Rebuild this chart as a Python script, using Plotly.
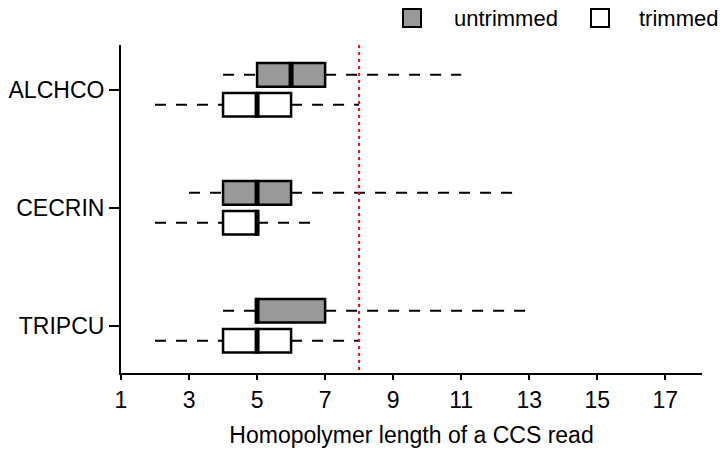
import plotly.graph_objects as go

# Species and summary statistics of homopolymer length per CCS read
species = ["ALCHCO", "CECRIN", "TRIPCU"]

untrimmed_low = [4, 3, 4]
untrimmed_q1 = [5, 4, 5]
untrimmed_med = [6, 5, 5]
untrimmed_q3 = [7, 6, 7]
untrimmed_high = [11, 12.75, 13]

trimmed_low = [2, 2, 2]
trimmed_q1 = [4, 4, 4]
trimmed_med = [5, 5, 5]
trimmed_q3 = [6, 5, 6]
trimmed_high = [8, 6.75, 8]

threshold = 8
x_ticks = [1, 3, 5, 7, 9, 11, 13, 15, 17]

FONT = "Arial, Liberation Sans, sans-serif"
OFFSET = 0.127
BOX_H = 0.2
GREY = "#999999"

fig = go.Figure()

groups = [
    ("untrimmed", -OFFSET, GREY, untrimmed_low, untrimmed_q1, untrimmed_med, untrimmed_q3, untrimmed_high),
    ("trimmed", OFFSET, "#ffffff", trimmed_low, trimmed_q1, trimmed_med, trimmed_q3, trimmed_high),
]

for name, off, color, lo, q1, med, q3, hi in groups:
    for i in range(len(species)):
        yc = i + off
        # dashed whiskers on each side of the box
        for a, b in [(lo[i], q1[i]), (q3[i], hi[i])]:
            fig.add_trace(go.Scatter(
                x=[a, b], y=[yc, yc], mode="lines",
                line=dict(color="black", width=2, dash="11px,10px"),
                showlegend=False, hoverinfo="skip"))
    # interquartile boxes
    fig.add_trace(go.Bar(
        orientation="h",
        y=[i + off for i in range(len(species))],
        x=[q3[i] - q1[i] for i in range(len(species))],
        base=q1, width=BOX_H,
        marker=dict(color=color, line=dict(color="black", width=2.5)),
        showlegend=False, hoverinfo="skip"))
    # medians
    for i in range(len(species)):
        yc = i + off
        fig.add_trace(go.Scatter(
            x=[med[i], med[i]], y=[yc - BOX_H / 2 - 0.01, yc + BOX_H / 2 + 0.01], mode="lines",
            line=dict(color="black", width=5),
            showlegend=False, hoverinfo="skip"))

# threshold line
fig.add_trace(go.Scatter(
    x=[threshold, threshold], y=[-0.38, 2.4], mode="lines",
    line=dict(color="red", width=2, dash="3px,4px"),
    showlegend=False, hoverinfo="skip"))

# legend drawn in paper space above the plot
legend_items = [("untrimmed", GREY, 403, 452), ("trimmed", "#ffffff", 591, 637)]
W, H = 725, 458
ML, MR, MT, MB = 121, 23, 45, 85
pw, ph = W - ML - MR, H - MT - MB


def px_x(p):
    return (p - ML) / pw


def px_y(p):
    return (H - MB - p) / ph


for label, color, sx, tx in legend_items:
    fig.add_shape(type="rect", xref="paper", yref="paper",
                  x0=px_x(sx), x1=px_x(sx + 18), y0=px_y(27), y1=px_y(9),
                  fillcolor=color, line=dict(color="black", width=2))
    fig.add_annotation(xref="paper", yref="paper", x=px_x(tx), y=px_y(18),
                       xanchor="left", yanchor="middle", text=label, showarrow=False,
                       font=dict(size=22, family=FONT, color="black"))

fig.update_layout(
    width=W, height=H,
    margin=dict(l=ML, r=MR, t=MT, b=MB, autoexpand=False),
    plot_bgcolor="white", paper_bgcolor="white",
    font=dict(family=FONT, size=23, color="black"),
    barmode="overlay",
    showlegend=False,
    xaxis=dict(
        range=[1, 18.08], tickvals=x_ticks, ticktext=[str(v) for v in x_ticks],
        showgrid=False, zeroline=False, showline=True, linecolor="black", linewidth=2,
        ticks="outside", ticklen=5, tickwidth=2, tickcolor="black",
        tickfont=dict(size=23),
        title=dict(text="Homopolymer length of a CCS read", font=dict(size=23), standoff=15),
    ),
    yaxis=dict(
        range=[2.4, -0.38], tickvals=list(range(len(species))), ticktext=species,
        showgrid=False, zeroline=False, showline=True, linecolor="black", linewidth=2,
        ticks="outside", ticklen=10, tickwidth=2, tickcolor="black",
        tickfont=dict(size=23),
    ),
)

fig.write_html("out.html")
